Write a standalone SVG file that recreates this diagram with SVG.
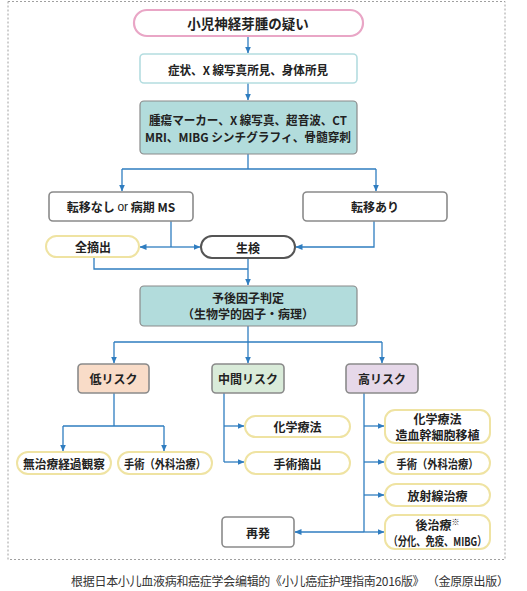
<svg xmlns="http://www.w3.org/2000/svg" width="527" height="591" viewBox="0 0 527 591">
<style>
  .t{font-family:"Noto Sans CJK JP","Noto Sans",sans-serif;font-weight:700;font-size:12px;fill:#222;text-anchor:middle;dominant-baseline:central}
  .box{fill:#fff;stroke:#8a8a8a;stroke-width:1.6}
  .teal{fill:#b2dcdc;stroke:#8a8a8a;stroke-width:1.2}
  .yel{fill:#fff;stroke:#efe3a2;stroke-width:2}
  .con{fill:none;stroke:#2f7dc0;stroke-width:1.3}
  .arr{fill:none;stroke:#2f7dc0;stroke-width:1.3;marker-end:url(#ah)}
</style>
<defs>
  <marker id="ah" markerUnits="userSpaceOnUse" markerWidth="7" markerHeight="7" viewBox="0 0 7 7" refX="6.5" refY="3.5" orient="auto">
    <path d="M0,0.5 L7,3.5 L0,6.5 Z" fill="#2f7dc0"/>
  </marker>
</defs>
<rect x="8" y="1.5" width="497" height="558" fill="none" stroke="#a0a0a0" stroke-width="1" stroke-dasharray="2,2"/>

<g id="connectors">
  <path class="arr" d="M248,36 V53"/>
  <path class="arr" d="M248,83 V100"/>
  <path class="con" d="M248,154 V169 M122,169 H376"/>
  <path class="arr" d="M122,169 V191"/>
  <path class="arr" d="M376,169 V191"/>
  <path class="con" d="M171,221 V247"/>
  <path class="arr" d="M171,247 H140"/>
  <path class="arr" d="M171,247 H200"/>
  <path class="arr" d="M374,221 V247 H296"/>
  <path class="con" d="M94,257 V269 H248"/>
  <path class="arr" d="M248,258 V285"/>
  <path class="con" d="M248,326 V342 M114,342 H382"/>
  <path class="arr" d="M114,342 V363"/>
  <path class="arr" d="M248,342 V363"/>
  <path class="arr" d="M382,342 V363"/>
  <path class="con" d="M114,393 V426 M63,426 H164"/>
  <path class="arr" d="M63,426 V451"/>
  <path class="arr" d="M164,426 V451"/>
  <path class="con" d="M224,393 V462"/>
  <path class="arr" d="M224,426 H244"/>
  <path class="arr" d="M224,462 H244"/>
  <path class="con" d="M364,393 V532"/>
  <path class="arr" d="M364,426 H384"/>
  <path class="arr" d="M364,462 H384"/>
  <path class="arr" d="M364,495 H384"/>
  <path class="arr" d="M364,532 H384"/>
  <path class="arr" d="M364,532 H295"/>
</g>

<g id="n1"><rect x="134" y="10" width="229" height="26" rx="13" fill="#fff" stroke="#e9a6c6" stroke-width="2.2"/><text class="t" x="248" y="23" style="font-size:13.5px">小児神経芽腫の疑い</text></g>
<g id="n2"><rect x="140" y="54" width="217" height="29" rx="4" fill="#fff" stroke="#b4dde0" stroke-width="1.6"/><text class="t" x="248" y="69" textLength="160" lengthAdjust="spacingAndGlyphs">症状、X 線写真所見、身体所見</text></g>
<g id="n3"><rect class="teal" x="140" y="101" width="217" height="53" rx="4"/><text class="t" x="248" y="119.5" textLength="198" lengthAdjust="spacingAndGlyphs">腫瘍マーカー、X 線写真、超音波、CT</text><text class="t" x="248" y="136" textLength="206" lengthAdjust="spacingAndGlyphs">MRI、MIBG シンチグラフィ、骨髄穿刺</text></g>
<g id="n4"><rect class="box" x="49" y="192" width="144" height="29" rx="4"/><text class="t" x="121" y="206.5">転移なし <tspan style="font-weight:400;font-family:'Liberation Sans',sans-serif">or</tspan> 病期 MS</text></g>
<g id="n5"><rect class="box" x="303" y="192" width="144" height="29" rx="4"/><text class="t" x="375" y="206.5">転移あり</text></g>
<g id="n6"><rect class="yel" x="46" y="236" width="93" height="21" rx="10.5"/><text class="t" x="93" y="246.5">全摘出</text></g>
<g id="n7"><rect x="201" y="236" width="94" height="22" rx="11" fill="#fff" stroke="#555" stroke-width="2"/><text class="t" x="248" y="247">生検</text></g>
<g id="n8"><rect class="teal" x="140" y="286" width="217" height="40" rx="4"/><text class="t" x="248" y="297">予後因子判定</text><text class="t" x="248" y="313.5">（生物学的因子・病理）</text></g>
<g id="n9"><rect x="78" y="364" width="71" height="29" rx="4" fill="#f9dcc8" stroke="#8a8a8a" stroke-width="1.6"/><text class="t" x="113.5" y="378.5">低リスク</text></g>
<g id="n10"><rect x="212" y="364" width="72" height="29" rx="4" fill="#d9ebd9" stroke="#8a8a8a" stroke-width="1.6"/><text class="t" x="248" y="378.5">中間リスク</text></g>
<g id="n11"><rect x="346" y="364" width="72" height="29" rx="4" fill="#e6d8e9" stroke="#8a8a8a" stroke-width="1.6"/><text class="t" x="382" y="378.5">高リスク</text></g>
<g id="n12"><rect class="yel" x="17" y="452" width="94" height="22" rx="11"/><text class="t" x="64" y="463" textLength="82" lengthAdjust="spacingAndGlyphs">無治療経過観察</text></g>
<g id="n13"><rect class="yel" x="118" y="452" width="94" height="22" rx="11"/><text class="t" x="165" y="463" textLength="82" lengthAdjust="spacingAndGlyphs">手術（外科治療）</text></g>
<g id="n14"><rect class="yel" x="245" y="416" width="105" height="21" rx="10.5"/><text class="t" x="297.5" y="426.5">化学療法</text></g>
<g id="n15"><rect class="yel" x="245" y="452" width="105" height="22" rx="11"/><text class="t" x="297.5" y="463">手術摘出</text></g>
<g id="n16"><rect class="yel" x="385" y="410" width="105" height="33" rx="10"/><text class="t" x="437.5" y="418.5">化学療法</text><text class="t" x="437.5" y="434.5">造血幹細胞移植</text></g>
<g id="n17"><rect class="yel" x="385" y="452" width="105" height="22" rx="11"/><text class="t" x="437.5" y="463" textLength="82" lengthAdjust="spacingAndGlyphs">手術（外科治療）</text></g>
<g id="n18"><rect class="yel" x="385" y="484" width="105" height="22" rx="11"/><text class="t" x="437.5" y="495">放射線治療</text></g>
<g id="n19"><rect class="yel" x="385" y="515" width="105" height="34" rx="10"/><text class="t" x="437.5" y="524">後治療<tspan style="font-size:8px" dy="-3">※</tspan></text><text class="t" x="437.5" y="540.5" textLength="98" lengthAdjust="spacingAndGlyphs">（分化、免疫、MIBG）</text></g>
<g id="n20"><rect class="box" x="222" y="517" width="72" height="30" rx="4"/><text class="t" x="258" y="532">再発</text></g>

<text x="71" y="580" textLength="438" lengthAdjust="spacing" style="font-family:'Noto Sans CJK SC','Noto Sans',sans-serif;font-size:12px;fill:#333;dominant-baseline:central">根据日本小儿血液病和癌症学会编辑的《小儿癌症护理指南2016版》 （金原原出版）</text>
</svg>
